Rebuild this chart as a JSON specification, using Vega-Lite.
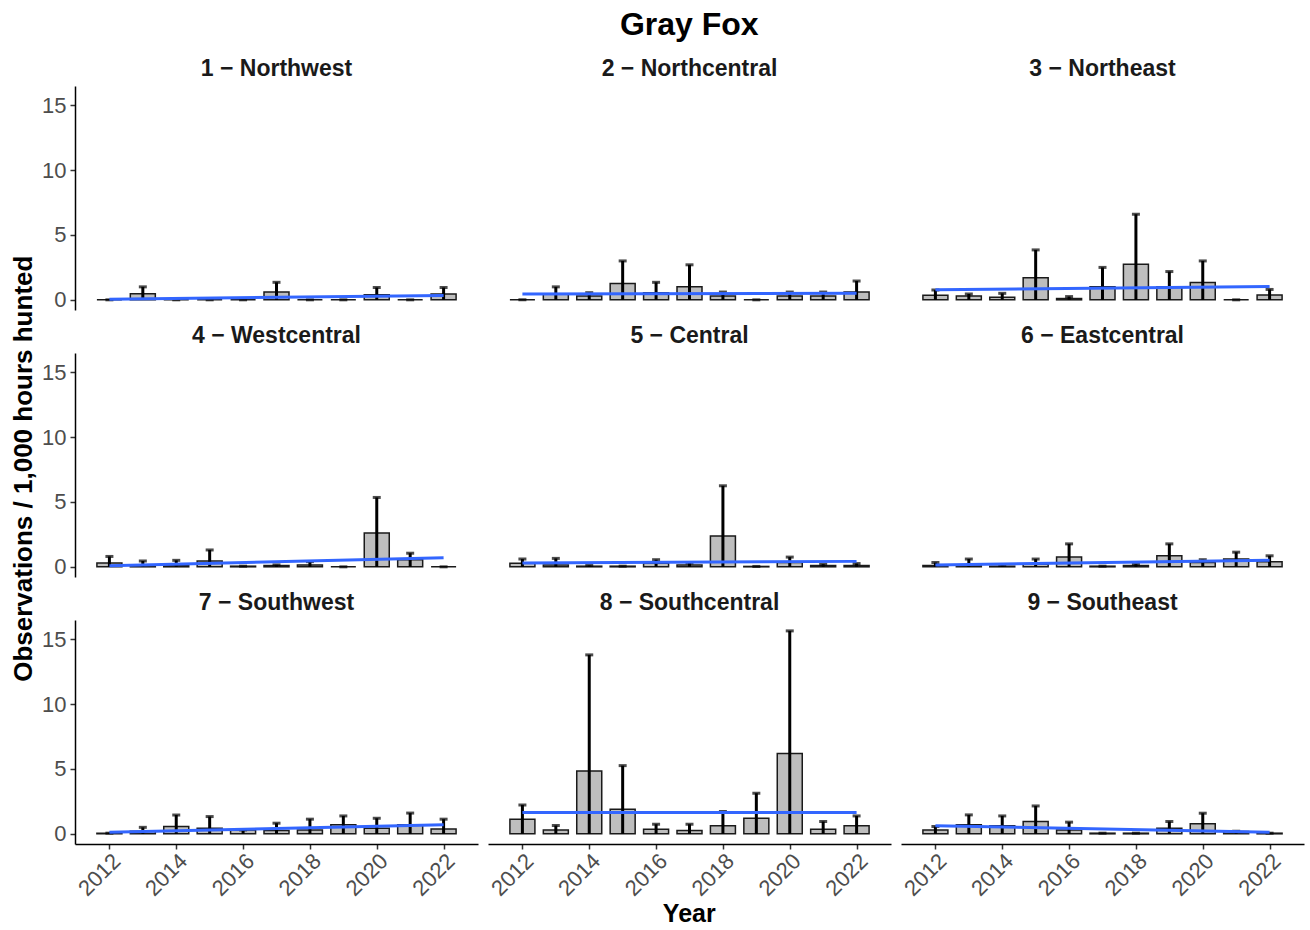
{
  "$schema": "https://vega.github.io/schema/vega-lite/v6.json",
  "padding": {"left": 10, "top": 9, "right": 5, "bottom": 3},
  "background": "white",
  "title": {"text": "Gray Fox", "fontSize": 32, "font": "Liberation Sans", "fontWeight": "bold", "color": "#000000", "anchor": "middle", "offset": 16, "dx": 32},
  "data": {"values": [
    {"region": "1 − Northwest", "year": 2012, "mean": 0, "upper": 0, "fit": 0.05},
    {"region": "1 − Northwest", "year": 2013, "mean": 0.46, "upper": 1.0},
    {"region": "1 − Northwest", "year": 2014, "mean": 0, "upper": 0},
    {"region": "1 − Northwest", "year": 2015, "mean": 0, "upper": 0},
    {"region": "1 − Northwest", "year": 2016, "mean": 0, "upper": 0},
    {"region": "1 − Northwest", "year": 2017, "mean": 0.6, "upper": 1.35},
    {"region": "1 − Northwest", "year": 2018, "mean": 0, "upper": 0},
    {"region": "1 − Northwest", "year": 2019, "mean": 0, "upper": 0},
    {"region": "1 − Northwest", "year": 2020, "mean": 0.4, "upper": 0.95},
    {"region": "1 − Northwest", "year": 2021, "mean": 0, "upper": 0},
    {"region": "1 − Northwest", "year": 2022, "mean": 0.45, "upper": 0.95, "fit": 0.33},
    {"region": "2 − Northcentral", "year": 2012, "mean": 0, "upper": 0, "fit": 0.45},
    {"region": "2 − Northcentral", "year": 2013, "mean": 0.45, "upper": 1.0},
    {"region": "2 − Northcentral", "year": 2014, "mean": 0.3, "upper": 0.55},
    {"region": "2 − Northcentral", "year": 2015, "mean": 1.25, "upper": 3.0},
    {"region": "2 − Northcentral", "year": 2016, "mean": 0.55, "upper": 1.35},
    {"region": "2 − Northcentral", "year": 2017, "mean": 1.0, "upper": 2.7},
    {"region": "2 − Northcentral", "year": 2018, "mean": 0.3, "upper": 0.6},
    {"region": "2 − Northcentral", "year": 2019, "mean": 0, "upper": 0},
    {"region": "2 − Northcentral", "year": 2020, "mean": 0.3, "upper": 0.6},
    {"region": "2 − Northcentral", "year": 2021, "mean": 0.3, "upper": 0.6},
    {"region": "2 − Northcentral", "year": 2022, "mean": 0.6, "upper": 1.45, "fit": 0.5},
    {"region": "3 − Northeast", "year": 2012, "mean": 0.35, "upper": 0.75, "fit": 0.77},
    {"region": "3 − Northeast", "year": 2013, "mean": 0.3, "upper": 0.45},
    {"region": "3 − Northeast", "year": 2014, "mean": 0.2, "upper": 0.5},
    {"region": "3 − Northeast", "year": 2015, "mean": 1.7, "upper": 3.85},
    {"region": "3 − Northeast", "year": 2016, "mean": 0.1, "upper": 0.25},
    {"region": "3 − Northeast", "year": 2017, "mean": 1.0, "upper": 2.5},
    {"region": "3 − Northeast", "year": 2018, "mean": 2.75, "upper": 6.6},
    {"region": "3 − Northeast", "year": 2019, "mean": 1.0, "upper": 2.18},
    {"region": "3 − Northeast", "year": 2020, "mean": 1.33, "upper": 3.0},
    {"region": "3 − Northeast", "year": 2021, "mean": 0, "upper": 0},
    {"region": "3 − Northeast", "year": 2022, "mean": 0.38, "upper": 0.8, "fit": 1.03},
    {"region": "4 − Westcentral", "year": 2012, "mean": 0.3, "upper": 0.8, "fit": 0.08},
    {"region": "4 − Westcentral", "year": 2013, "mean": 0.1, "upper": 0.45},
    {"region": "4 − Westcentral", "year": 2014, "mean": 0.1, "upper": 0.5},
    {"region": "4 − Westcentral", "year": 2015, "mean": 0.45, "upper": 1.3},
    {"region": "4 − Westcentral", "year": 2016, "mean": 0.05, "upper": 0.05},
    {"region": "4 − Westcentral", "year": 2017, "mean": 0.1, "upper": 0.15},
    {"region": "4 − Westcentral", "year": 2018, "mean": 0.15, "upper": 0.4},
    {"region": "4 − Westcentral", "year": 2019, "mean": 0, "upper": 0},
    {"region": "4 − Westcentral", "year": 2020, "mean": 2.6, "upper": 5.35},
    {"region": "4 − Westcentral", "year": 2021, "mean": 0.55, "upper": 1.05},
    {"region": "4 − Westcentral", "year": 2022, "mean": 0, "upper": 0, "fit": 0.7},
    {"region": "5 − Central", "year": 2012, "mean": 0.28, "upper": 0.6, "fit": 0.3},
    {"region": "5 − Central", "year": 2013, "mean": 0.15, "upper": 0.65},
    {"region": "5 − Central", "year": 2014, "mean": 0.05, "upper": 0.1},
    {"region": "5 − Central", "year": 2015, "mean": 0.05, "upper": 0.05},
    {"region": "5 − Central", "year": 2016, "mean": 0.28, "upper": 0.55},
    {"region": "5 − Central", "year": 2017, "mean": 0.15, "upper": 0.3},
    {"region": "5 − Central", "year": 2018, "mean": 2.38, "upper": 6.25},
    {"region": "5 − Central", "year": 2019, "mean": 0.03, "upper": 0.03},
    {"region": "5 − Central", "year": 2020, "mean": 0.33, "upper": 0.75},
    {"region": "5 − Central", "year": 2021, "mean": 0.1, "upper": 0.2},
    {"region": "5 − Central", "year": 2022, "mean": 0.1, "upper": 0.25, "fit": 0.42},
    {"region": "6 − Eastcentral", "year": 2012, "mean": 0.1, "upper": 0.33, "fit": 0.15},
    {"region": "6 − Eastcentral", "year": 2013, "mean": 0.15, "upper": 0.6},
    {"region": "6 − Eastcentral", "year": 2014, "mean": 0.05, "upper": 0.1},
    {"region": "6 − Eastcentral", "year": 2015, "mean": 0.2, "upper": 0.6},
    {"region": "6 − Eastcentral", "year": 2016, "mean": 0.75, "upper": 1.77},
    {"region": "6 − Eastcentral", "year": 2017, "mean": 0.05, "upper": 0.05},
    {"region": "6 − Eastcentral", "year": 2018, "mean": 0.1, "upper": 0.2},
    {"region": "6 − Eastcentral", "year": 2019, "mean": 0.85, "upper": 1.77},
    {"region": "6 − Eastcentral", "year": 2020, "mean": 0.33, "upper": 0.55},
    {"region": "6 − Eastcentral", "year": 2021, "mean": 0.6, "upper": 1.13},
    {"region": "6 − Eastcentral", "year": 2022, "mean": 0.4, "upper": 0.85, "fit": 0.5},
    {"region": "7 − Southwest", "year": 2012, "mean": 0.05, "upper": 0.05, "fit": 0.13},
    {"region": "7 − Southwest", "year": 2013, "mean": 0.2, "upper": 0.5},
    {"region": "7 − Southwest", "year": 2014, "mean": 0.56, "upper": 1.45},
    {"region": "7 − Southwest", "year": 2015, "mean": 0.43, "upper": 1.33},
    {"region": "7 − Southwest", "year": 2016, "mean": 0.3, "upper": 0.3},
    {"region": "7 − Southwest", "year": 2017, "mean": 0.25, "upper": 0.82},
    {"region": "7 − Southwest", "year": 2018, "mean": 0.3, "upper": 1.13},
    {"region": "7 − Southwest", "year": 2019, "mean": 0.69, "upper": 1.38},
    {"region": "7 − Southwest", "year": 2020, "mean": 0.43, "upper": 1.2},
    {"region": "7 − Southwest", "year": 2021, "mean": 0.69, "upper": 1.6},
    {"region": "7 − Southwest", "year": 2022, "mean": 0.38, "upper": 1.13, "fit": 0.7},
    {"region": "8 − Southcentral", "year": 2012, "mean": 1.13, "upper": 2.23, "fit": 1.64},
    {"region": "8 − Southcentral", "year": 2013, "mean": 0.3, "upper": 0.64},
    {"region": "8 − Southcentral", "year": 2014, "mean": 4.85, "upper": 13.8},
    {"region": "8 − Southcentral", "year": 2015, "mean": 1.9, "upper": 5.26},
    {"region": "8 − Southcentral", "year": 2016, "mean": 0.36, "upper": 0.74},
    {"region": "8 − Southcentral", "year": 2017, "mean": 0.26, "upper": 0.74},
    {"region": "8 − Southcentral", "year": 2018, "mean": 0.62, "upper": 1.72},
    {"region": "8 − Southcentral", "year": 2019, "mean": 1.2, "upper": 3.13},
    {"region": "8 − Southcentral", "year": 2020, "mean": 6.2, "upper": 15.65},
    {"region": "8 − Southcentral", "year": 2021, "mean": 0.36, "upper": 0.95},
    {"region": "8 − Southcentral", "year": 2022, "mean": 0.62, "upper": 1.38, "fit": 1.64},
    {"region": "9 − Southeast", "year": 2012, "mean": 0.3, "upper": 0.56, "fit": 0.62},
    {"region": "9 − Southeast", "year": 2013, "mean": 0.69, "upper": 1.46},
    {"region": "9 − Southeast", "year": 2014, "mean": 0.62, "upper": 1.38},
    {"region": "9 − Southeast", "year": 2015, "mean": 0.95, "upper": 2.15},
    {"region": "9 − Southeast", "year": 2016, "mean": 0.3, "upper": 0.9},
    {"region": "9 − Southeast", "year": 2017, "mean": 0.05, "upper": 0.05},
    {"region": "9 − Southeast", "year": 2018, "mean": 0.05, "upper": 0.05},
    {"region": "9 − Southeast", "year": 2019, "mean": 0.43, "upper": 0.95},
    {"region": "9 − Southeast", "year": 2020, "mean": 0.77, "upper": 1.59},
    {"region": "9 − Southeast", "year": 2021, "mean": 0.18, "upper": 0.2},
    {"region": "9 − Southeast", "year": 2022, "mean": 0.05, "upper": 0.05, "fit": 0.13}
  ]},
  "vconcat": [{
    "title": {"text": "Year", "orient": "bottom", "fontSize": 25, "font": "Liberation Sans", "fontWeight": "bold", "color": "#000000", "anchor": "middle", "offset": 3, "dx": 32},
    "vconcat": [{
      "title": {"text": "Observations / 1,000 hours hunted", "orient": "left", "fontSize": 26, "font": "Liberation Sans", "fontWeight": "bold", "color": "#000000", "anchor": "middle", "offset": 5, "dx": 10},
      "spacing": 14,
      "vconcat": [
        {
          "transform": [{"filter": {"field": "region", "oneOf": ["1 − Northwest", "2 − Northcentral", "3 − Northeast"]}}],
          "facet": {"column": {"field": "region", "type": "nominal", "title": null}},
          "spacing": 10,
          "spec": {
            "width": 403, "height": 224,
            "layer": [
              {"mark": {"type": "bar", "width": 25, "fill": "#bebebe", "stroke": "#1a1a1a", "strokeWidth": 1.5},
               "encoding": {
                 "x": {"field": "year", "type": "quantitative", "scale": {"domain": [2011.12, 2022.88], "nice": false, "zero": false}, "axis": null},
                 "y": {"field": "mean", "type": "quantitative", "scale": {"domain": [-0.785, 16.49], "nice": false, "zero": false},
                   "axis": {"title": null, "values": [0, 5, 10, 15]}}}},
              {"mark": {"type": "rule", "color": "#000000", "strokeWidth": 3},
               "encoding": {"x": {"field": "year", "type": "quantitative"}, "y": {"field": "upper", "type": "quantitative"}, "y2": {"datum": 0}}},
              {"mark": {"type": "tick", "orient": "horizontal", "color": "#000000", "size": 8, "thickness": 3},
               "encoding": {"x": {"field": "year", "type": "quantitative"}, "y": {"field": "upper", "type": "quantitative"}}},
              {"transform": [{"filter": {"field": "fit", "valid": true}}],
               "mark": {"type": "line", "color": "#3366ff", "strokeWidth": 3},
               "encoding": {"x": {"field": "year", "type": "quantitative"}, "y": {"field": "fit", "type": "quantitative"}}}
            ]
          }
        },
        {
          "transform": [{"filter": {"field": "region", "oneOf": ["4 − Westcentral", "5 − Central", "6 − Eastcentral"]}}],
          "facet": {"column": {"field": "region", "type": "nominal", "title": null}},
          "spacing": 10,
          "spec": {
            "width": 403, "height": 224,
            "layer": [
              {"mark": {"type": "bar", "width": 25, "fill": "#bebebe", "stroke": "#1a1a1a", "strokeWidth": 1.5},
               "encoding": {
                 "x": {"field": "year", "type": "quantitative", "scale": {"domain": [2011.12, 2022.88], "nice": false, "zero": false}, "axis": null},
                 "y": {"field": "mean", "type": "quantitative", "scale": {"domain": [-0.785, 16.49], "nice": false, "zero": false},
                   "axis": {"title": null, "values": [0, 5, 10, 15]}}}},
              {"mark": {"type": "rule", "color": "#000000", "strokeWidth": 3},
               "encoding": {"x": {"field": "year", "type": "quantitative"}, "y": {"field": "upper", "type": "quantitative"}, "y2": {"datum": 0}}},
              {"mark": {"type": "tick", "orient": "horizontal", "color": "#000000", "size": 8, "thickness": 3},
               "encoding": {"x": {"field": "year", "type": "quantitative"}, "y": {"field": "upper", "type": "quantitative"}}},
              {"transform": [{"filter": {"field": "fit", "valid": true}}],
               "mark": {"type": "line", "color": "#3366ff", "strokeWidth": 3},
               "encoding": {"x": {"field": "year", "type": "quantitative"}, "y": {"field": "fit", "type": "quantitative"}}}
            ]
          }
        },
        {
          "transform": [{"filter": {"field": "region", "oneOf": ["7 − Southwest", "8 − Southcentral", "9 − Southeast"]}}],
          "facet": {"column": {"field": "region", "type": "nominal", "title": null}},
          "spacing": 10,
          "spec": {
            "width": 403, "height": 224,
            "layer": [
              {"mark": {"type": "bar", "width": 25, "fill": "#bebebe", "stroke": "#1a1a1a", "strokeWidth": 1.5},
               "encoding": {
                 "x": {"field": "year", "type": "quantitative", "scale": {"domain": [2011.12, 2022.88], "nice": false, "zero": false},
                   "axis": {"title": null, "values": [2012, 2014, 2016, 2018, 2020, 2022], "format": "d", "labelAngle": -45, "labelAlign": "right", "labelBaseline": "top", "labelPadding": 1}},
                 "y": {"field": "mean", "type": "quantitative", "scale": {"domain": [-0.785, 16.49], "nice": false, "zero": false},
                   "axis": {"title": null, "values": [0, 5, 10, 15]}}}},
              {"mark": {"type": "rule", "color": "#000000", "strokeWidth": 3},
               "encoding": {"x": {"field": "year", "type": "quantitative"}, "y": {"field": "upper", "type": "quantitative"}, "y2": {"datum": 0}}},
              {"mark": {"type": "tick", "orient": "horizontal", "color": "#000000", "size": 8, "thickness": 3},
               "encoding": {"x": {"field": "year", "type": "quantitative"}, "y": {"field": "upper", "type": "quantitative"}}},
              {"transform": [{"filter": {"field": "fit", "valid": true}}],
               "mark": {"type": "line", "color": "#3366ff", "strokeWidth": 3},
               "encoding": {"x": {"field": "year", "type": "quantitative"}, "y": {"field": "fit", "type": "quantitative"}}}
            ]
          }
        }
      ]
    }]
  }],
  "config": {
    "view": {"stroke": null},
    "font": "Liberation Sans",
    "header": {"labelFontSize": 23, "labelFont": "Liberation Sans", "labelFontWeight": "bold", "labelColor": "#1a1a1a", "labelPadding": 5},
    "axis": {
      "grid": false,
      "domainColor": "#000000", "domainWidth": 1.5,
      "tickColor": "#333333", "tickWidth": 1.5, "tickSize": 5,
      "labelColor": "#4d4d4d", "labelFontSize": 22, "labelFont": "Liberation Sans", "labelPadding": 4
    }
  }
}
